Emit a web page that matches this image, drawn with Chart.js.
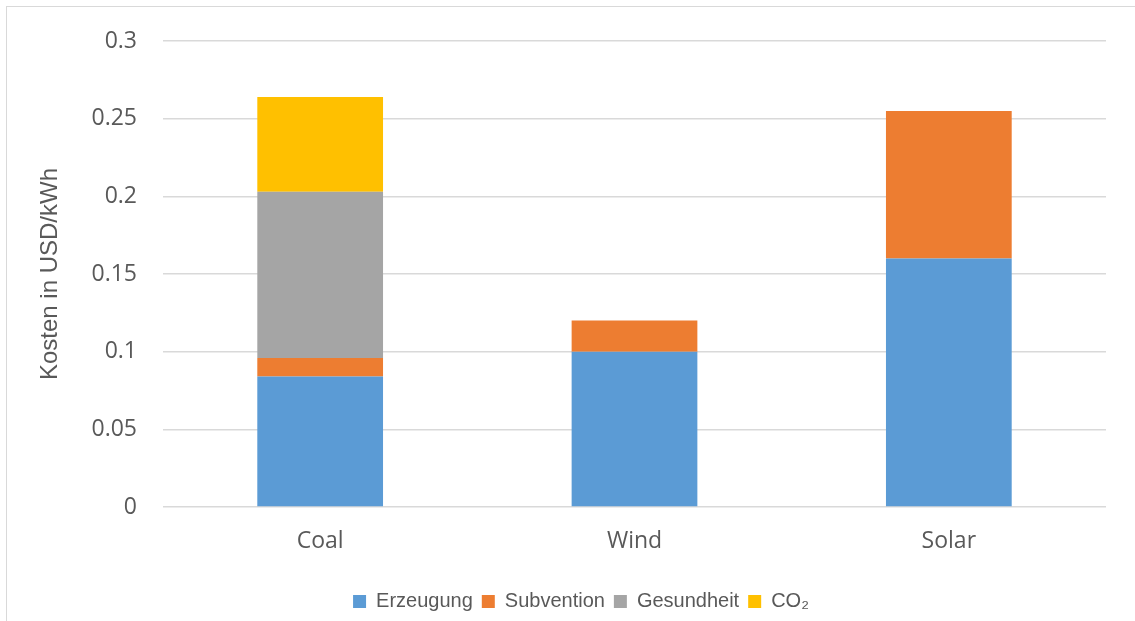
<!DOCTYPE html>
<html>
<head>
<meta charset="utf-8">
<script src="https://cdn.jsdelivr.net/npm/chart.js@4/dist/chart.umd.min.js"></script>
<style>
  html, body { margin: 0; padding: 0; background: #ffffff; }
  #wrap { position: relative; width: 1135px; height: 621px; overflow: hidden; }
  #frame { position: absolute; left: 6px; top: 6px; width: 1200px; height: 700px;
           border: 1px solid #d9d9d9; box-sizing: border-box; }
  #box { position: absolute; left: 0; top: 0; width: 1135px; height: 621px; }
</style>
</head>
<body>
<div id="wrap">
  <div id="frame"></div>
  <div id="box"><canvas id="c"></canvas></div>
</div>
<script>
// Cost per kWh, split into components
const categories = ['Coal', 'Wind', 'Solar'];
const erzeugung  = [0.084, 0.100, 0.160];
const subvention = [0.012, 0.020, 0.095];
const gesundheit = [0.107, 0, 0];
const co2        = [0.061, 0, 0];
const seriesNames = ['Erzeugung', 'Subvention', 'Gesundheit', 'CO\u2082'];
const yTicks = [0, 0.05, 0.1, 0.15, 0.2, 0.25, 0.3];
const yTitle = 'Kosten in USD/kWh';

const colors = ['#5b9bd5', '#ed7d31', '#a5a5a5', '#ffc000'];
const textColor = '#595959';

const CHART_BOTTOM = 507;   // pixel row of the zero line
const LEGEND_CENTER_Y = 602;
const LEGEND_SHIFT_X = 28;

// place the legend row under the plot
const legendPlace = {
  id: 'legendPlace',
  afterLayout(chart) {
    const lg = chart.legend;
    if (!lg) return;
    const dy = LEGEND_CENTER_Y - (lg.top + lg.height / 2);
    lg.top += dy; lg.bottom += dy;
    lg.left += LEGEND_SHIFT_X; lg.right += LEGEND_SHIFT_X;
  }
};

const values = [erzeugung, subvention, gesundheit, co2];
const datasets = values.map((v, i) => ({
  label: seriesNames[i],
  data: v,
  backgroundColor: colors[i],
  borderWidth: 0,
  categoryPercentage: 1.0,
  barPercentage: 0.4
}));

new Chart(document.getElementById('c'), {
  type: 'bar',
  data: { labels: categories, datasets },
  plugins: [legendPlace],
  options: {
    responsive: true,
    maintainAspectRatio: false,
    animation: false,
    devicePixelRatio: 1,
    layout: { padding: { top: 41, right: 29, left: 0, bottom: 0 } },
    plugins: {
      tooltip: { enabled: false },
      legend: {
        position: 'bottom',
        labels: {
          boxWidth: 13,
          boxHeight: 13,
          padding: 9,
          color: textColor,
          font: { family: '"Liberation Sans", Arial, sans-serif', size: 20 }
        }
      }
    },
    scales: {
      x: {
        stacked: true,
        grid: { display: false, drawTicks: false },
        border: { display: false },
        ticks: {
          padding: 21,
          color: textColor,
          font: { family: '"Open Sans", sans-serif', size: 23 }
        },
        afterFit(scale) {
          const lg = scale.chart.legend;
          const lh = lg ? lg.height : 0;
          scale.height = scale.chart.height - CHART_BOTTOM - lh;
        }
      },
      y: {
        stacked: true,
        min: 0,
        max: 0.3,
        afterBuildTicks(scale) {
          scale.ticks = yTicks.map(v => ({ value: v }));
        },
        grid: { color: '#d9d9d9', lineWidth: 1.5, drawTicks: false },
        border: { display: false },
        ticks: {
          padding: 26,
          color: textColor,
          font: { family: '"Open Sans", sans-serif', size: 23 },
          callback: v => String(+v.toFixed(2))
        },
        title: {
          display: true,
          text: yTitle,
          color: textColor,
          padding: { top: 36, bottom: 0 },
          font: { family: '"Liberation Sans", Arial, sans-serif', size: 24 }
        },
        afterFit(scale) { scale.width = 163; }
      }
    }
  }
});
</script>
</body>
</html>
